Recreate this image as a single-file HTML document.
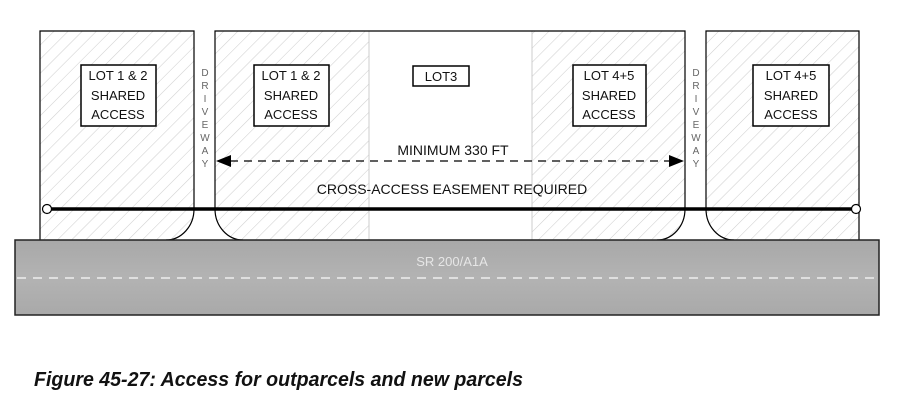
<!DOCTYPE html>
<html><head><meta charset="utf-8"><style>
html,body{margin:0;padding:0;background:#fff}
svg{display:block}
text{font-family:"Liberation Sans",sans-serif}
</style></head><body>
<svg width="906" height="410" viewBox="0 0 906 410" xmlns="http://www.w3.org/2000/svg">
<defs>
<pattern id="h" width="10" height="10" patternUnits="userSpaceOnUse" patternTransform="rotate(45)">
<line x1="0" y1="0" x2="0" y2="10" stroke="#cfcfcf" stroke-width="1.1"/>
</pattern>
<linearGradient id="road" x1="0" y1="0" x2="0" y2="1">
<stop offset="0" stop-color="#a8a8a8"/><stop offset="0.5" stop-color="#b3b3b3"/><stop offset="1" stop-color="#a9a9a9"/>
</linearGradient>
</defs>
<!-- lots -->
<path d="M40,241 V31 H194 V209 A28,31 0 0 1 166,240 Z" fill="url(#h)"/>
<path d="M40,241 V31 H194 V209" fill="none" stroke="#000" stroke-width="1.2"/>
<path d="M215,209 V31 H685 V209 A28,31 0 0 1 657,240 H243 A28,31 0 0 1 215,209 Z" fill="url(#h)"/>
<rect x="369" y="31" width="163" height="210" fill="#fff"/>
<line x1="369" y1="31" x2="369" y2="240" stroke="#ccc"/>
<line x1="532" y1="31" x2="532" y2="240" stroke="#ccc"/>
<path d="M215,209 V31 H685 V209" fill="none" stroke="#000" stroke-width="1.2"/>
<path d="M706,209 V31 H859 V241 H734 A28,31 0 0 1 706,209 Z" fill="url(#h)"/>
<path d="M706,209 V31 H859 V241" fill="none" stroke="#000" stroke-width="1.2"/>
<!-- driveway curves -->
<path d="M194,209 A28,31 0 0 1 166,240" fill="none" stroke="#000" stroke-width="1.2"/>
<path d="M215,209 A28,31 0 0 0 243,240" fill="none" stroke="#000" stroke-width="1.2"/>
<path d="M685,209 A28,31 0 0 1 657,240" fill="none" stroke="#000" stroke-width="1.2"/>
<path d="M706,209 A28,31 0 0 0 734,240" fill="none" stroke="#000" stroke-width="1.2"/>
<!-- road -->
<rect x="15" y="240" width="864" height="75" fill="url(#road)" stroke="#222" stroke-width="1.5"/>
<line x1="17" y1="278" x2="877" y2="278" stroke="#eee" stroke-width="1.5" stroke-dasharray="9,7"/>
<text x="452" y="266" font-size="13" fill="#e6e6e6" text-anchor="middle">SR 200/A1A</text>
<!-- easement line -->
<line x1="49" y1="209" x2="852" y2="209" stroke="#000" stroke-width="3.5"/>
<circle cx="47" cy="209" r="4.5" fill="#fff" stroke="#000" stroke-width="1.2"/>
<circle cx="856" cy="209" r="4.5" fill="#fff" stroke="#000" stroke-width="1.2"/>
<!-- label boxes -->
<g font-size="13" text-anchor="middle" fill="#111">
<rect x="81" y="65" width="75" height="61" fill="#fff" stroke="#000" stroke-width="1.5"/>
<text x="118" y="80">LOT 1 &amp; 2</text><text x="118" y="100">SHARED</text><text x="118" y="119">ACCESS</text>
<rect x="254" y="65" width="75" height="61" fill="#fff" stroke="#000" stroke-width="1.5"/>
<text x="291" y="80">LOT 1 &amp; 2</text><text x="291" y="100">SHARED</text><text x="291" y="119">ACCESS</text>
<rect x="413" y="66" width="56" height="20" fill="#fff" stroke="#000" stroke-width="1.5"/>
<text x="441" y="81">LOT3</text>
<rect x="573" y="65" width="73" height="61" fill="#fff" stroke="#000" stroke-width="1.5"/>
<text x="609" y="80">LOT 4+5</text><text x="609" y="100">SHARED</text><text x="609" y="119">ACCESS</text>
<rect x="753" y="65" width="76" height="61" fill="#fff" stroke="#000" stroke-width="1.5"/>
<text x="791" y="80">LOT 4+5</text><text x="791" y="100">SHARED</text><text x="791" y="119">ACCESS</text>
<text x="453" y="155" font-size="14">MINIMUM 330 FT</text>
<text x="452" y="194" font-size="14">CROSS-ACCESS EASEMENT REQUIRED</text>
</g>
<!-- driveway text -->
<g font-size="10" fill="#666" text-anchor="middle">
<text x="205" y="76">D</text><text x="205" y="89">R</text><text x="205" y="102">I</text><text x="205" y="115">V</text><text x="205" y="128">E</text><text x="205" y="141">W</text><text x="205" y="154">A</text><text x="205" y="167">Y</text>
<text x="696" y="76">D</text><text x="696" y="89">R</text><text x="696" y="102">I</text><text x="696" y="115">V</text><text x="696" y="128">E</text><text x="696" y="141">W</text><text x="696" y="154">A</text><text x="696" y="167">Y</text>
</g>
<!-- arrow -->
<line x1="230" y1="161" x2="670" y2="161" stroke="#000" stroke-width="1.2" stroke-dasharray="8,6"/>
<polygon points="216,161 231,155 231,167" fill="#000"/>
<polygon points="684,161 669,155 669,167" fill="#000"/>
<text x="34" y="386" font-size="20" font-weight="bold" font-style="italic" fill="#111" textLength="489" lengthAdjust="spacingAndGlyphs">Figure 45-27: Access for outparcels and new parcels</text>
</svg>
</body></html>
